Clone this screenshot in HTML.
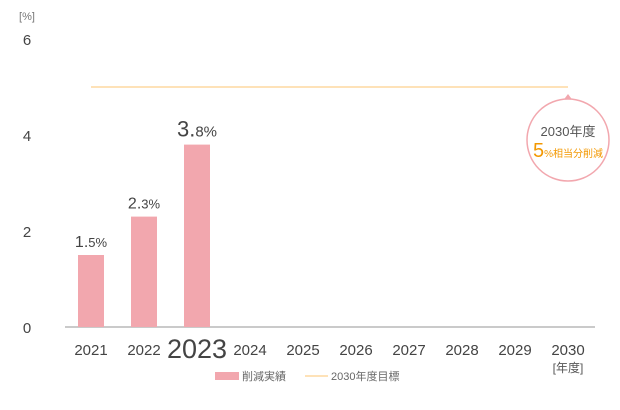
<!DOCTYPE html>
<html><head><meta charset="utf-8"><style>
body{margin:0;background:#fff;}
svg{display:block;font-family:"Liberation Sans","Noto Sans CJK JP",sans-serif;}
</style></head><body>
<svg id="c" width="620" height="410">
<text x="27" y="20" font-size="11" fill="#777" text-anchor="middle">[%]</text>
<g id="yt"></g>
<line x1="65" y1="327" x2="595" y2="327" stroke="#aaa" stroke-width="1.2"/>
<g id="bars"></g>
<g id="xt"></g>
<text x="568" y="372" font-size="12" fill="#555" text-anchor="middle">[年度]</text>
<line id="target" stroke="#fdd9a0" stroke-width="1.5"/>
<g>
<polygon id="tri" fill="#f2a7ae"/>
<circle id="circ" r="41" fill="#fff" stroke="#f2a7ae" stroke-width="1.5"/>
<text id="ct1" font-size="13" fill="#555" text-anchor="middle">2030年度</text>
<text id="ct2" text-anchor="middle" fill="#f39800"><tspan font-size="20">5</tspan><tspan font-size="10">%相当分削減</tspan></text>
</g>
<g>
<rect x="215" y="372" width="24" height="8" fill="#f2a7ae"/>
<text x="242" y="380" font-size="11" fill="#666">削減実績</text>
<line x1="305" y1="376" x2="328" y2="376" stroke="#fdd9a0" stroke-width="1.5"/>
<text x="331" y="380" font-size="11" fill="#666">2030年度目標</text>
</g>
</svg>
<script>
const years=["2021","2022","2023","2024","2025","2026","2027","2028","2029","2030"];
const actual=[1.5,2.3,3.8,null,null,null,null,null,null,null];
const target=5;
const yTicks=[0,2,4,6];
const ns="http://www.w3.org/2000/svg";
const X=i=>91+i*53, Y=v=>327-v*48;
function mk(t,a,p){const e=document.createElementNS(ns,t);for(const k in a)e.setAttribute(k,a[k]);p.appendChild(e);return e;}
const yt=document.getElementById('yt');
yTicks.forEach(v=>{const t=mk('text',{x:27,y:Y(v)+6,'font-size':15,fill:'#444','text-anchor':'middle'},yt);t.textContent=v;

});
const bars=document.getElementById('bars'),xt=document.getElementById('xt');
years.forEach((y,i)=>{
 const big=i===2;
 const t=mk('text',{x:X(i),y:big?358:355,'font-size':big?27:15,fill:'#444','text-anchor':'middle'},xt);t.textContent=y;
 
 
 const v=actual[i];if(v==null)return;
 const r=mk('rect',{x:X(i)-13,y:Y(v),width:26,height:Y(0)-Y(v),fill:'#f2a7ae'},bars);
 
 
 const s=v.toFixed(1).split('.');
 const l=mk('text',{x:X(i),y:Y(v)-8,'text-anchor':'middle',fill:'#444'},bars);
 
 
 l.innerHTML='<tspan font-size="'+(big?22:16)+'">'+s[0]+'.</tspan><tspan font-size="'+(big?15:13)+'">'+s[1]+'%</tspan>';
});
const tl=document.getElementById('target');
tl.setAttribute('x1',X(0));tl.setAttribute('x2',X(9));tl.setAttribute('y1',Y(target));tl.setAttribute('y2',Y(target));
const cx=X(9),cy=Y(target)+53;
document.getElementById('tri').setAttribute('points',`${cx},${Y(target)+7} ${cx-6},${Y(target)+15} ${cx+6},${Y(target)+15}`);
const c=document.getElementById('circ');c.setAttribute('cx',cx);c.setAttribute('cy',cy);
const a=document.getElementById('ct1');a.setAttribute('x',cx);a.setAttribute('y',cy-4);
const b=document.getElementById('ct2');b.setAttribute('x',cx);b.setAttribute('y',cy+17);
</script>
</body></html>
